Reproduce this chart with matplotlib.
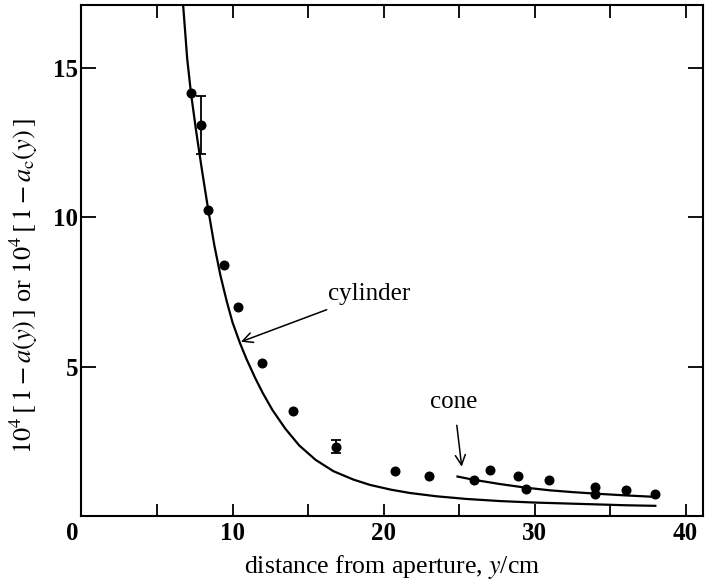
import numpy as np
import matplotlib
matplotlib.use("Agg")
import matplotlib.pyplot as plt
from matplotlib.transforms import ScaledTranslation

plt.rcParams['font.family'] = ['Liberation Serif', 'DejaVu Serif']
plt.rcParams['mathtext.fontset'] = 'stix'

# measured points
dist = [7.25, 7.89, 8.36, 9.46, 10.34, 11.97, 14.03, 16.87, 20.74, 23.03,
        26.01, 27.05, 28.93, 29.44, 30.98, 34.03, 34.03, 36.04, 37.98]
val = [14.15, 13.07, 10.24, 8.41, 7.01, 5.13, 3.50, 2.32, 1.50, 1.34,
       1.21, 1.54, 1.35, 0.90, 1.20, 0.98, 0.74, 0.87, 0.75]
err = [0, 0.97, 0, 0, 0, 0, 0, 0.22, 0, 0,
       0, 0, 0, 0, 0, 0, 0, 0, 0]

# theory curves
cyl_x = [6.70, 7.00, 7.25, 7.60, 8.00, 8.36, 8.80, 9.20, 9.61, 10.0, 10.5,
         10.93, 11.5, 12.0, 12.64, 13.5, 14.42, 15.5, 16.68, 18.0, 19.11,
         20.5, 21.75, 23.5, 25.5, 27.7, 30.0, 32.0, 34.0, 36.0, 38.0]
cyl_y = [17.3, 15.3, 14.15, 12.85, 11.5, 10.35, 9.05, 8.05, 7.2, 6.48, 5.78,
         5.25, 4.62, 4.12, 3.55, 2.92, 2.36, 1.88, 1.50, 1.22, 1.04,
         0.88, 0.77, 0.66, 0.57, 0.50, 0.45, 0.42, 0.39, 0.36, 0.34]
cone_x = [24.9, 26.0, 27.7, 29.4, 31.0, 32.5, 34.3, 36.0, 38.0]
cone_y = [1.32, 1.21, 1.07, 0.95, 0.86, 0.80, 0.74, 0.69, 0.64]

fig = plt.figure(figsize=(7.05, 5.82), dpi=100)
ax = fig.add_axes([0.1156, 0.1134, 0.8814, 0.8780])

ax.plot(cyl_x, cyl_y, color='black', lw=1.6)
ax.plot(cone_x, cone_y, color='black', lw=1.6)
ax.plot(dist, val, 'o', color='black', ms=6.2)
e = np.array(err)
m = e > 0
ax.errorbar(np.array(dist)[m], np.array(val)[m], yerr=e[m], fmt='none',
            ecolor='black', elinewidth=1.3, capsize=3.5, capthick=1.3)

ax.annotate('cylinder', xy=(10.56, 5.83), xytext=(16.3, 7.43),
            fontsize=18, va='center', ha='left',
            arrowprops=dict(arrowstyle='->', color='black', lw=1.1,
                            shrinkA=4, shrinkB=0))
ax.annotate('cone', xy=(25.18, 1.65), xytext=(24.67, 3.82),
            fontsize=18, va='center', ha='center',
            arrowprops=dict(arrowstyle='->', color='black', lw=1.1,
                            shrinkA=7, shrinkB=0))

ax.set_xlim(0, 41.15)
ax.set_ylim(0, 17.1)
ax.set_xticks([0, 10, 20, 30, 40])
ax.set_xticks([5, 15, 25, 35], minor=True)
ax.set_yticks([5, 10, 15])
ax.tick_params(which='both', direction='in', top=True, right=True,
               width=1.3, labelsize=18)
ax.tick_params(axis='x', which='both', length=9, pad=4)
ax.tick_params(axis='y', which='both', length=11, pad=2.5)
for lab in ax.get_xticklabels() + ax.get_yticklabels():
    lab.set_fontweight('bold')
for lab in ax.get_xticklabels():
    if lab.get_text() == '0':
        lab.set_transform(lab.get_transform() +
                          ScaledTranslation(-9 / 100, 0, fig.dpi_scale_trans))
for s in ax.spines.values():
    s.set_linewidth(1.5)

ax.set_xlabel('distance from aperture, $y$/cm', fontsize=18.5, labelpad=6)
ax.set_ylabel(r'$10^4\,[\,1-a(y)\,]$ or $10^4\,[\,1-a_{\mathrm{c}}(y)\,]$',
              fontsize=19)
ax.yaxis.set_label_coords(-0.066, 0.45)

fig.savefig('out.png', dpi=100)
